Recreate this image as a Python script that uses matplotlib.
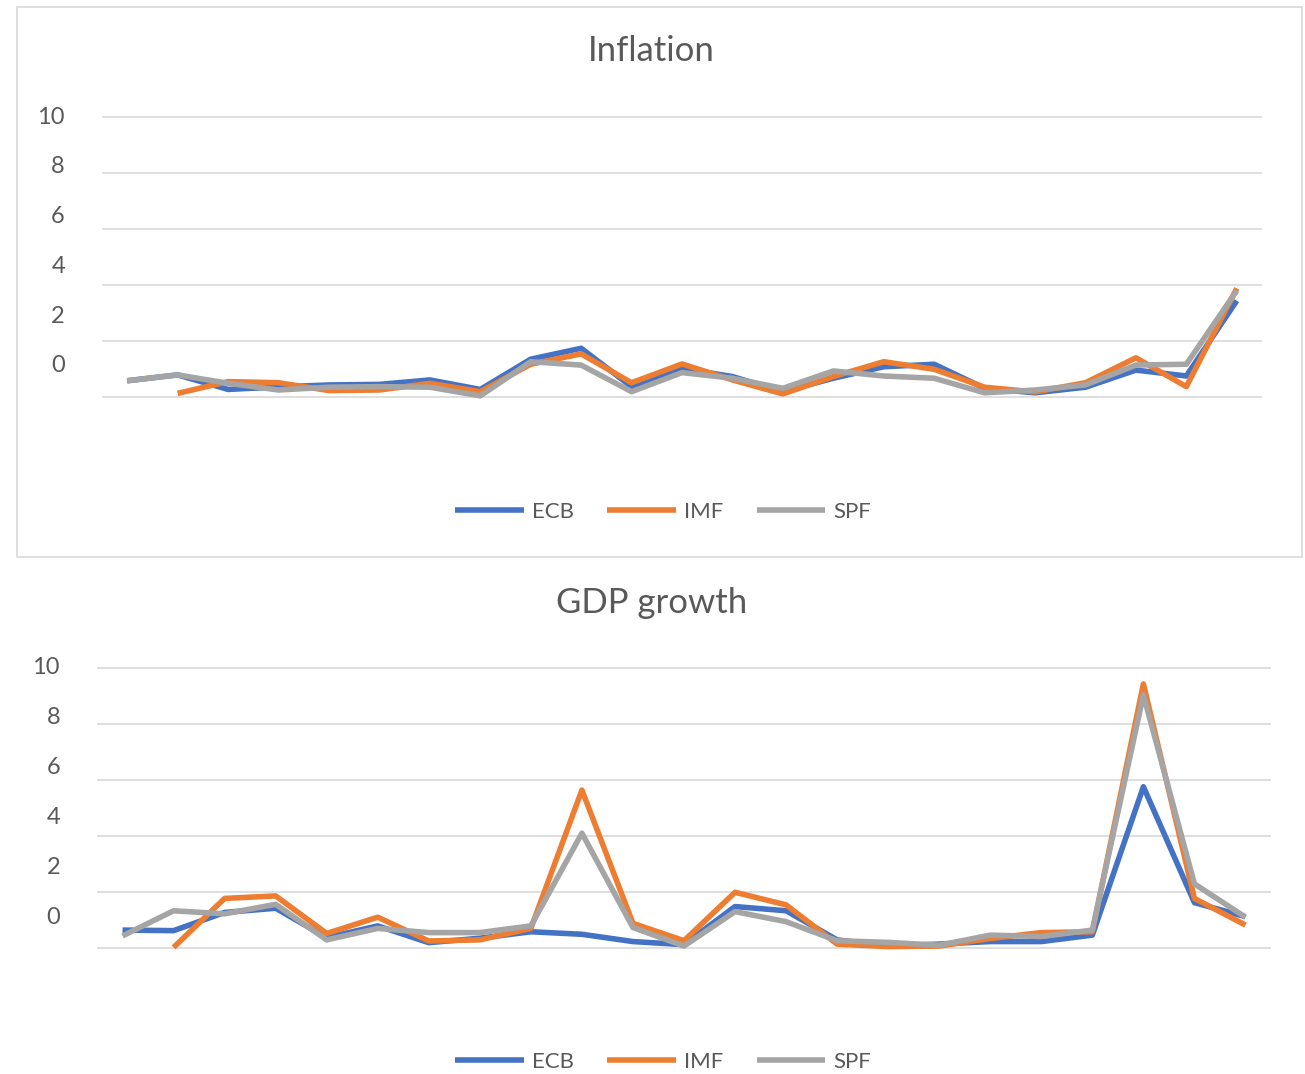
import matplotlib
matplotlib.use("Agg")
import matplotlib.pyplot as plt
import numpy as np
from matplotlib.patches import Rectangle
from matplotlib.lines import Line2D

plt.rcParams['font.family'] = ['Lato', 'DejaVu Sans']

nan = np.nan
series_names = ["ECB", "IMF", "SPF"]
colors = ["#4472C4", "#ED7D31", "#A5A5A5"]
y_ticks = [0, 2, 4, 6, 8, 10]

# Inflation forecasts (23 periods)
infl_ecb = [0.58, 0.79, 0.27, 0.36, 0.43, 0.45, 0.61, 0.27, 1.35, 1.74, 0.37, 1.02,
            0.73, 0.19, 0.67, 1.08, 1.17, 0.31, 0.15, 0.35, 0.96, 0.75, 3.44]
infl_imf = [nan, 0.13, 0.55, 0.51, 0.23, 0.25, 0.49, 0.19, 1.17, 1.54, 0.51, 1.18,
            0.61, 0.11, 0.73, 1.26, 0.99, 0.35, 0.18, 0.51, 1.40, 0.37, 3.88]
infl_spf = [0.58, 0.79, 0.49, 0.25, 0.35, 0.37, 0.35, 0.04, 1.26, 1.14, 0.19, 0.87,
            0.67, 0.31, 0.93, 0.75, 0.67, 0.15, 0.25, 0.43, 1.14, 1.17, 3.80]

# GDP growth forecasts (23 periods)
gdp_ecb = [0.64, 0.62, 1.27, 1.42, 0.37, 0.79, 0.19, 0.35, 0.58, 0.49, 0.23, 0.12,
           1.48, 1.33, 0.29, 0.07, 0.14, 0.23, 0.23, 0.46, 5.76, 1.62, 1.12]
gdp_imf = [nan, 0.02, 1.77, 1.86, 0.52, 1.10, 0.25, 0.29, 0.70, 5.64, 0.88, 0.26,
           1.99, 1.54, 0.14, 0.05, 0.07, 0.34, 0.55, 0.58, 9.43, 1.77, 0.82]
gdp_spf = [0.43, 1.33, 1.22, 1.56, 0.29, 0.70, 0.55, 0.55, 0.79, 4.10, 0.73, 0.07,
           1.30, 0.94, 0.26, 0.20, 0.10, 0.46, 0.41, 0.64, 9.04, 2.29, 1.10]

W, H = 1305, 1074
fig = plt.figure(figsize=(W / 100, H / 100), dpi=100)
text_color = "#595959"
grid_color = "#D9D9D9"
lw = 4.0


def fx(x):
    return x / W


def fy(y):
    return 1 - y / H


def draw_panel(left, right, top, bottom, title, title_base, legend_y, data):
    ax = fig.add_axes([fx(left), fy(bottom), fx(right - left), (bottom - top) / H])
    n = len(data[0])
    x = np.arange(n)
    ax.set_xlim(-0.5, n - 0.5)
    ax.set_ylim(0, 10)
    ax.axis("off")
    ax.hlines(y_ticks, -0.5, n - 0.5, color=grid_color, lw=1.2, zorder=0, clip_on=False)
    for vals, c, name in zip(data, colors, series_names):
        ax.plot(x, vals, color=c, lw=lw, solid_joinstyle="round",
                solid_capstyle="butt", clip_on=False, label=name)

    # value axis labels sit on a tighter spacing than the gridlines
    for v in y_ticks:
        base = top + 6.5 + (10 - v) / 2 * 49.8
        fig.text(fx(left - 37), fy(base), str(v), ha="right", va="baseline",
                 fontsize=17, color=text_color)

    fig.text(0.499, fy(title_base), title, ha="center", va="baseline",
             fontsize=25, color=text_color)

    handles = [Line2D([], [], color=c, lw=lw, solid_capstyle="butt") for c in colors]
    fig.legend(handles, series_names, loc="center", ncol=3, frameon=False,
               bbox_to_anchor=(fx(663), fy(legend_y)), fontsize=16,
               handlelength=3.1, handletextpad=0.36, columnspacing=1.5,
               labelcolor=text_color)
    return ax


# border around the inflation chart
fig.patches.append(Rectangle((fx(17), fy(557)), fx(1302 - 17), (557 - 7) / H,
                             transform=fig.transFigure, fill=False,
                             edgecolor=grid_color, lw=1.2))

draw_panel(102, 1262, 117, 397, "Inflation", 61, 512,
           [infl_ecb, infl_imf, infl_spf])
draw_panel(97, 1271, 668, 948, "GDP growth", 612.7, 1062,
           [gdp_ecb, gdp_imf, gdp_spf])

fig.savefig("out.png", dpi=100)
